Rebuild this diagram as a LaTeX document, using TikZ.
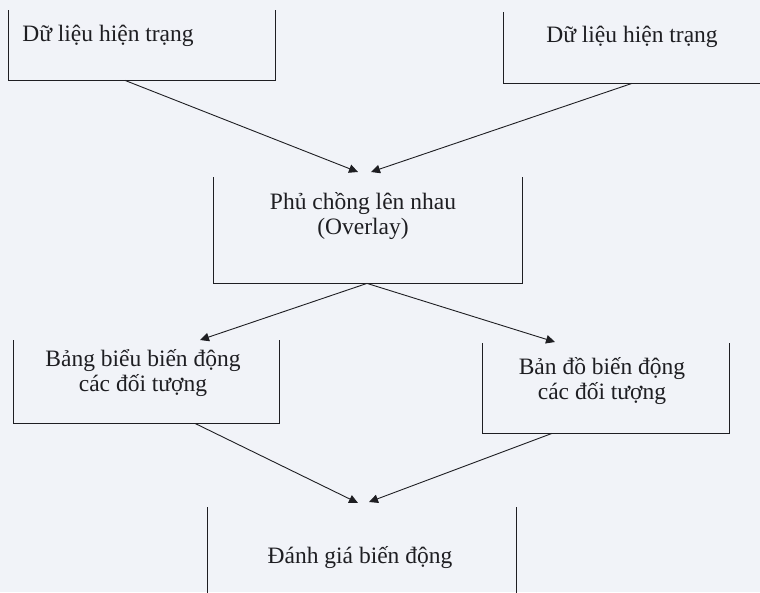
\documentclass[tikz,border=0pt]{standalone}
\usepackage{fontspec}
\setmainfont{Liberation Serif}
\usetikzlibrary{arrows.meta,calc}
\definecolor{paper}{RGB}{241,243,248}
\definecolor{ink}{RGB}{30,30,34}
\tikzset{
  ubox/.style={draw=none,inner sep=0pt,anchor=north west},
  utext/.style={font=\fontsize{23.5}{24.5}\selectfont,text=ink,align=center,inner sep=0pt},
  uline/.style={draw=ink,line width=0.9pt},
  flow/.style={draw=ink,line width=0.9pt,-{Triangle[length=9pt,width=8.5pt]}}
}
\begin{document}
\begin{tikzpicture}[x=1pt,y=-1pt]
\fill[paper] (0,0) rectangle (760,592);
\useasboundingbox (0,0) rectangle (760,592);
\clip (0,0) rectangle (760,592);
% boxes (open at the top)
\node[ubox,minimum width=267pt,minimum height=70pt] (b1) at (8,10) {};
\node[ubox,minimum width=270pt,minimum height=71pt] (b2) at (503,12) {};
\node[ubox,minimum width=309pt,minimum height=106pt] (b3) at (213,177) {};
\node[ubox,minimum width=266pt,minimum height=83pt] (b4) at (13,340) {};
\node[ubox,minimum width=247pt,minimum height=90pt] (b5) at (482,343) {};
\node[ubox,minimum width=309pt,minimum height=100pt] (b6) at (207,507) {};
\foreach \b in {b1,b2,b3,b4,b5,b6}
  \draw[uline] (\b.north west) -- (\b.south west) -- (\b.south east) -- (\b.north east);
% texts
\node[utext] (t1) at (108,36) {Dữ liệu hiện trạng};
\node[utext] (t2) at (632,37) {Dữ liệu hiện trạng};
\node[utext] (t3) at (363,216) {Phủ chồng lên nhau\\(Overlay)};
\node[utext] (t4) at (143,373) {Bảng biểu biến động\\các đối tượng};
\node[utext] (t5) at (602,381) {Bản đồ biến động\\các đối tượng};
\node[utext] (t6) at (360,558) {Đánh giá biến động};
% connector ends
\coordinate (s1) at ($(b1.south west)+(117,0)$);
\coordinate (s2) at ($(b2.south west)+(129,0)$);
\coordinate (s3) at ($(b3.south west)+(154,0)$);
\coordinate (s4) at ($(b4.south west)+(182,0)$);
\coordinate (s5) at ($(b5.south west)+(70,0)$);
\coordinate (e1) at ($(b3.north west)+(145,-5)$);
\coordinate (e2) at ($(b3.north west)+(158,-5)$);
\coordinate (e3) at ($(b4.north west)+(187,0)$);
\coordinate (e4) at ($(b5.north west)+(73,-1)$);
\coordinate (e5) at ($(b6.north west)+(151,-4)$);
\coordinate (e6) at ($(b6.north west)+(162,-5)$);
\draw[flow] (s1) -- (e1);
\draw[flow] (s2) -- (e2);
\draw[flow] (s3) -- (e3);
\draw[flow] (s3) -- (e4);
\draw[flow] (s4) -- (e5);
\draw[flow] (s5) -- (e6);
\end{tikzpicture}
\end{document}
